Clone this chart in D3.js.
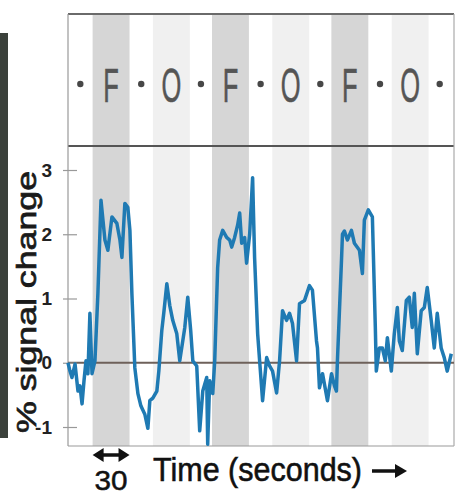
<!DOCTYPE html>
<html><head><meta charset="utf-8">
<script src="https://cdn.jsdelivr.net/npm/d3@7"></script>
<style>html,body{margin:0;padding:0;background:#fff;}svg{display:block;}</style>
</head><body>
<svg id="chart" width="456" height="495"></svg>
<script>
// Time (seconds) and % signal change
const times = [0,1.6,3.2,5.7,8.1,9.7,11.4,13.0,14.6,16.2,17.8,19.5,21.9,24.3,26.8,30.0,32.4,35.7,39.7,42.2,43.8,46.2,48.6,50.3,51.9,54.3,56.8,59.2,62.4,64.9,66.5,68.9,72.2,73.8,76.2,77.8,80.3,82.7,85.1,88.4,90.8,94.9,97.3,99.7,101.4,104.6,107.0,109.5,112.7,113.5,115.1,117.6,119.2,121.6,123.2,125.7,128.9,131.4,133.0,135.4,137.8,139.5,141.1,143.5,145.1,147.6,150.0,151.6,154.1,155.7,158.1,161.4,163.8,166.2,169.5,171.9,174.3,177.6,180.0,182.4,185.7,188.1,192.2,196.2,198.6,201.9,202.7,204.3,206.8,210.8,214.1,216.5,218.1,218.9,222.2,223.0,224.6,227.0,230.3,232.7,236.8,239.2,240.8,244.0,247.3,249.7,250.5,253.0,255.4,257.8,259.5,262.7,265.1,267.6,269.2,271.6,274.9,277.3,279.7,281.4,283.8,287.0,289.5,291.9,295.1,297.6,300.0,303.2,305.7,308.1,311.4];
const signal = [0.00,-0.13,-0.23,-0.02,-0.44,-0.36,-0.64,-0.28,0.03,-0.17,0.77,-0.17,0.03,1.08,2.53,1.91,1.75,2.27,2.17,1.91,1.64,2.48,2.42,2.06,1.08,-0.08,-0.48,-0.67,-0.80,-1.02,-0.59,-0.55,-0.44,-0.13,0.50,0.77,1.23,0.89,0.66,0.45,0.03,0.55,1.02,0.50,0.03,-0.05,-1.06,-0.44,-0.23,-1.27,-0.28,-0.48,0.03,1.48,1.91,2.06,1.95,1.91,1.80,1.95,2.14,2.33,1.86,1.95,1.55,2.00,2.88,1.64,0.45,0.03,-0.59,0.08,-0.05,-0.13,-0.47,0.03,0.81,0.66,0.77,0.61,0.03,0.92,0.97,1.20,1.13,0.34,0.23,-0.39,-0.17,-0.59,-0.17,-0.36,-0.44,0.03,1.59,2.00,2.05,1.91,2.06,1.86,1.75,1.39,2.22,2.38,2.27,0.55,-0.13,0.23,0.23,0.03,0.39,-0.13,0.45,0.86,0.34,0.19,0.97,1.02,0.55,1.08,0.14,0.81,0.86,1.17,0.66,0.23,0.77,0.23,0.08,-0.13,0.14];

// Block design: condition labels with start/end times (s)
const blockLabels = ["F","O","F","O","F","O"];
const blockStarts = [20,69,117,166,214,263];
const blockEnds   = [50,99,147,196,244,293];
const fixationCenters = [10,59.5,108,156.5,205,253.5,302];
const yTicks = [-1,0,1,2,3];

const svg = d3.select("#chart");
const x = d3.scaleLinear().domain([0,312]).range([68,452]);
const y = d3.scaleLinear().domain([-1,3]).range([427,170]);

const fTop = 14, fMid = 146, fBottom = 446, fLeft = 68, fRight = 454;
const font = "Liberation Sans, Arial, Helvetica, sans-serif";

// left dark bar
svg.append("rect").attr("x",0).attr("y",33).attr("width",8).attr("height",405).attr("fill","#3b413b");

// bands
const blocks = blockLabels.map((l,i)=>({l, s:blockStarts[i], e:blockEnds[i]}));
svg.selectAll("rect.band").data(blocks).join("rect").attr("class","band")
  .attr("x",d=>x(d.s)).attr("y",fTop).attr("width",d=>x(d.e)-x(d.s)).attr("height",fBottom-fTop)
  .attr("fill",d=>d.l==="F" ? "#d6d6d6" : "#f0f0f0");

// frame
svg.append("line").attr("x1",fLeft).attr("x2",fRight).attr("y1",fTop).attr("y2",fTop).attr("stroke","#6a6a6a").attr("stroke-width",2);
svg.append("line").attr("x1",fLeft).attr("x2",fRight).attr("y1",fMid).attr("y2",fMid).attr("stroke","#555").attr("stroke-width",2);
svg.append("line").attr("x1",fLeft).attr("x2",fRight).attr("y1",fBottom).attr("y2",fBottom).attr("stroke","#999").attr("stroke-width",1.2);
svg.append("line").attr("x1",fLeft).attr("x2",fLeft).attr("y1",fTop).attr("y2",fBottom).attr("stroke","#999").attr("stroke-width",1.2);
svg.append("line").attr("x1",fRight).attr("x2",fRight).attr("y1",fTop).attr("y2",fBottom).attr("stroke","#aaa").attr("stroke-width",1.2);

// top labels
svg.selectAll("text.blk").data(blocks).join("text").attr("class","blk")
  .attr("transform",d=>`translate(${(x(d.s)+x(d.e))/2},102) scale(0.52,1)`)
  .attr("text-anchor","middle").attr("font-family",font)
  .attr("font-size",49).attr("fill","#555").attr("stroke","#555").attr("stroke-width",0.6).text(d=>d.l);
svg.selectAll("circle.fix").data(fixationCenters).join("circle").attr("class","fix")
  .attr("cx",d=>x(d)).attr("cy",84).attr("r",3.2).attr("fill","#474747");

// zero line
svg.append("line").attr("x1",fLeft).attr("x2",fRight).attr("y1",y(0)).attr("y2",y(0)).attr("stroke","#6e615a").attr("stroke-width",2);

// axis
const ax = svg.append("g").attr("transform","translate(77,0)")
  .call(d3.axisLeft(y).tickValues(yTicks).tickSize(14).tickPadding(11).tickFormat(d=>String(d)));
ax.select(".domain").remove();
ax.selectAll(".tick line").attr("stroke","#999").attr("stroke-width",1.2);
ax.selectAll(".tick text").attr("font-family",font).attr("font-size",19).attr("font-weight","bold").attr("fill","#222");

// trace
const pts = times.map((t,i)=>[t,signal[i]]);
svg.append("path").datum(pts).attr("fill","none").attr("stroke","#1f7ab3").attr("stroke-width",3.5).attr("stroke-linejoin","round")
  .attr("d",d3.line().x(d=>x(d[0])).y(d=>y(d[1])));

// y label
svg.append("text").attr("transform","translate(36,302) rotate(-90)").attr("text-anchor","middle")
  .attr("font-family",font).attr("font-size",28).attr("fill","#1a1a1a").attr("stroke","#1a1a1a").attr("stroke-width",0.7)
  .attr("textLength",262).attr("lengthAdjust","spacingAndGlyphs").text("% signal change");

// x label
svg.append("text").attr("x",153).attr("y",481).attr("font-family",font).attr("font-size",34).attr("fill","#111").attr("stroke","#111").attr("stroke-width",0.6)
  .attr("textLength",209).attr("lengthAdjust","spacingAndGlyphs").text("Time (seconds)");
svg.append("line").attr("x1",372).attr("x2",398).attr("y1",471).attr("y2",471).attr("stroke","#111").attr("stroke-width",3.5);
svg.append("path").attr("d","M407,471 L395,464 L395,478 Z").attr("fill","#111");

// 30 s scale arrow
const a1 = x(blockStarts[0]), a2 = x(blockEnds[0]);
svg.append("line").attr("x1",a1+8).attr("x2",a2-8).attr("y1",455).attr("y2",455).attr("stroke","#111").attr("stroke-width",3.5);
svg.append("path").attr("d",`M${a1},455 L${a1+11},448 L${a1+11},462 Z M${a2},455 L${a2-11},448 L${a2-11},462 Z`).attr("fill","#111");
svg.append("text").attr("x",(a1+a2)/2).attr("y",490).attr("text-anchor","middle").attr("font-family",font)
  .attr("font-size",28).attr("fill","#111").attr("stroke","#111").attr("stroke-width",0.5).attr("textLength",33).attr("lengthAdjust","spacingAndGlyphs").text("30");
</script>
</body></html>
